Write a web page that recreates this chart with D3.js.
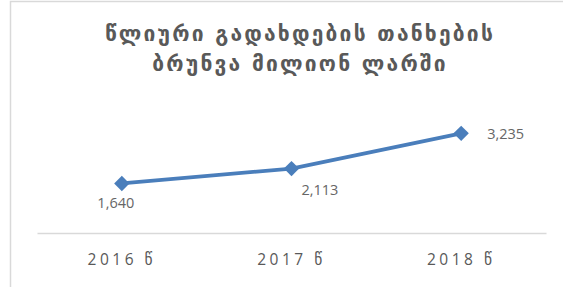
<!DOCTYPE html>
<html>
<head>
<meta charset="utf-8">
<script src="https://cdn.jsdelivr.net/npm/d3@7"></script>
<style>
  body { margin: 0; background: #fff; }
  svg { display: block; }
</style>
</head>
<body>
<svg id="chart"></svg>
<script>
const years = ["2016 წ", "2017 წ", "2018 წ"];
const values = [1640, 2113, 3235];
const titleLines = ["წლიური გადახდების თანხების", "ბრუნვა მილიონ ლარში"];

const width = 563, height = 287;
const margin = { top: 125, bottom: 52, left: 37, right: 17 };
const axisY = 233;

const svg = d3.select("#chart")
    .attr("width", width)
    .attr("height", height);

// chart area border (only top/left visible in crop)
svg.append("rect")
    .attr("x", 10.5).attr("y", 1.5)
    .attr("width", width + 20).attr("height", height + 20)
    .attr("fill", "#fff")
    .attr("stroke", "#d9d9d9")
    .attr("stroke-width", 1.5);

const x = d3.scaleBand()
    .domain(years)
    .range([margin.left, width - margin.right]);

const y = d3.scaleLinear()
    .domain([0, 3500])
    .range([height - margin.bottom, margin.top]);

// title
svg.append("text")
    .attr("text-anchor", "middle")
    .attr("font-family", "DejaVu Sans")
    .attr("font-weight", "bold")
    .attr("font-size", 21)
    .attr("letter-spacing", 2.2)
    .attr("fill", "#595959")
    .selectAll("tspan")
    .data(titleLines)
    .enter().append("tspan")
    .attr("x", 300)
    .attr("y", (d, i) => 41 + i * 30)
    .text(d => d);

// x axis
const xAxis = svg.append("g")
    .attr("transform", `translate(0,${axisY})`)
    .call(d3.axisBottom(x).tickSize(0).tickPadding(21));
xAxis.select(".domain")
    .attr("stroke", "#d9d9d9")
    .attr("stroke-width", 1.5);
xAxis.selectAll("text")
    .attr("font-family", "Open Sans, DejaVu Sans")
    .attr("font-size", 15.5)
    .attr("letter-spacing", 3.5)
    .attr("fill", "#595959");

// line
const line = d3.line()
    .x((d, i) => x(years[i]) + x.bandwidth() / 2)
    .y(d => y(d));

svg.append("path")
    .datum(values)
    .attr("d", line)
    .attr("fill", "none")
    .attr("stroke", "#4a7ebb")
    .attr("stroke-width", 3.8)
    .attr("stroke-linejoin", "round");

// diamond markers
svg.selectAll(".marker")
    .data(values)
    .enter().append("path")
    .attr("class", "marker")
    .attr("d", d3.symbol(d3.symbolDiamond2, 150))
    .attr("transform", (d, i) => `translate(${x(years[i]) + x.bandwidth() / 2},${y(d)})`)
    .attr("fill", "#4a7ebb");

// data labels
const labelOffsets = [
    { dx: -6, dy: 25, anchor: "middle" },
    { dx: 10, dy: 26, anchor: "start" },
    { dx: 26, dy: 6, anchor: "start" }
];
svg.selectAll(".label")
    .data(values)
    .enter().append("text")
    .attr("class", "label")
    .attr("x", (d, i) => x(years[i]) + x.bandwidth() / 2 + labelOffsets[i].dx)
    .attr("y", (d, i) => y(d) + labelOffsets[i].dy)
    .attr("text-anchor", (d, i) => labelOffsets[i].anchor)
    .attr("font-family", "Open Sans, sans-serif")
    .attr("font-size", 14.5)
    .attr("fill", "#666")
    .text(d => d3.format(",")(d));
</script>
</body>
</html>
